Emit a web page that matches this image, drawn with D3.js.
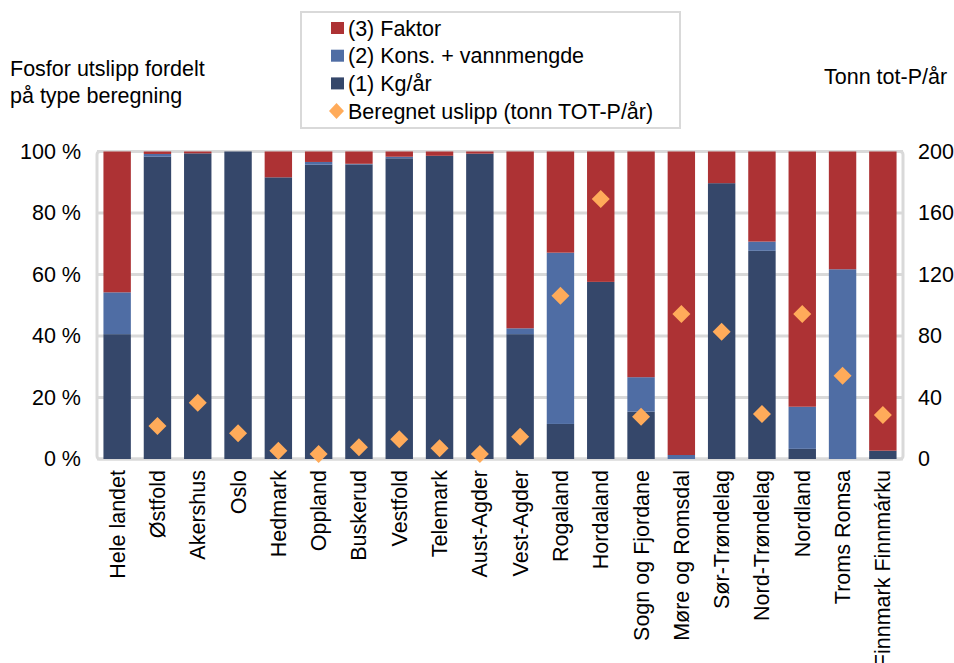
<!DOCTYPE html>
<html>
<head>
<meta charset="utf-8">
<script src="https://cdn.jsdelivr.net/npm/d3@7"></script>
<style>
  body { margin: 0; background: #fff; }
  svg text { font-family: "Liberation Sans", Arial, sans-serif; fill: #000; }
</style>
</head>
<body>
<div id="chart"></div>
<script>
// categories (fylker)
var categories = ["Hele landet", "Østfold", "Akershus", "Oslo", "Hedmark", "Oppland", "Buskerud",
  "Vestfold", "Telemark", "Aust-Agder", "Vest-Agder", "Rogaland", "Hordaland", "Sogn og Fjordane",
  "Møre og Romsdal", "Sør-Trøndelag", "Nord-Trøndelag", "Nordland", "Troms Romsa", "Finnmark Finnmárku"];

// share of discharge per calculation type (%)
var kgAar   = [40.6, 98.3, 99.4, 100, 91.6, 95.7, 95.8, 97.8, 98.6, 99.3, 40.6, 11.4, 57.6, 15.4, 0, 89.7, 67.7, 3.3, 0, 2.7];
var kons    = [13.6, 0.9, 0, 0, 0, 0.9, 0.2, 0.5, 0, 0, 1.9, 55.7, 0, 11.2, 1.3, 0, 3.0, 13.7, 61.7, 0];
var faktor  = [45.8, 0.8, 0.6, 0, 8.4, 3.4, 4.0, 1.7, 1.4, 0.7, 57.5, 32.9, 42.4, 73.4, 98.7, 10.3, 29.3, 83.0, 38.3, 97.3];

// calculated discharge (tonn TOT-P/år), Hele landet is off the scale
var beregnet = [null, 21.5, 36.6, 16.7, 5.4, 3.3, 7.6, 12.8, 7.0, 3.3, 14.5, 106.2, 169.1, 27.5, 94.3, 82.8, 29.3, 94.3, 54.2, 28.6];

var leftTicks  = [0, 20, 40, 60, 80, 100];
var rightTicks = [0, 40, 80, 120, 160, 200];

var seriesKeys   = ["kg", "kons", "faktor"];
var seriesColors = { kg: "#35476a", kons: "#4f6da4", faktor: "#ad3234" };
var legendItems  = [
  { label: "(3) Faktor", color: seriesColors.faktor, type: "rect" },
  { label: "(2) Kons. + vannmengde", color: seriesColors.kons, type: "rect" },
  { label: "(1) Kg/år", color: seriesColors.kg, type: "rect" },
  { label: "Beregnet uslipp (tonn TOT-P/år)", color: "#ffab5a", type: "diamond" }
];

var fontSize = "21.5px";
var width = 954, height = 663;
var margin = { top: 151.5, right: 51, bottom: 204, left: 97 };
var innerW = width - margin.left - margin.right;
var innerH = height - margin.top - margin.bottom;

var svg = d3.select("#chart").append("svg")
  .attr("width", width)
  .attr("height", height);

/** table for stacking */
var table = categories.map(function(c, i) {
  return { cat: c, kg: kgAar[i], kons: kons[i], faktor: faktor[i], ber: beregnet[i] };
});

var x = d3.scaleBand().domain(categories).range([0, innerW]).paddingInner(0.32).paddingOuter(0.16);
var y = d3.scaleLinear().domain([0, 100]).range([innerH, 0]);
var y2 = d3.scaleLinear().domain([0, 200]).range([innerH, 0]);

var g = svg.append("g").attr("transform", "translate(" + margin.left + "," + margin.top + ")");

// gridlines
g.append("g")
  .selectAll("line")
  .data(leftTicks)
  .enter().append("line")
    .attr("x1", 0).attr("x2", innerW)
    .attr("y1", function(d) { return y(d); })
    .attr("y2", function(d) { return y(d); })
    .attr("stroke", "#d9d9d9")
    .attr("stroke-width", 3);

// plot frame
g.append("rect")
  .attr("x", 0).attr("y", 0)
  .attr("width", innerW).attr("height", innerH)
  .attr("rx", 3)
  .attr("fill", "none")
  .attr("stroke", "#d9d9d9")
  .attr("stroke-width", 3);

// stacked bars
var stack = d3.stack().keys(seriesKeys);
var stacked = stack(table);

g.selectAll(".layer")
  .data(stacked)
  .enter().append("g")
    .attr("class", "layer")
    .attr("fill", function(d) { return seriesColors[d.key]; })
  .selectAll("rect")
  .data(function(d) { return d; })
  .enter().append("rect")
    .attr("x", function(d) { return x(d.data.cat); })
    .attr("y", function(d) { return y(Math.min(d[1], 100)); })
    .attr("width", x.bandwidth())
    .attr("height", function(d) { return Math.max(0, y(d[0]) - y(Math.min(d[1], 100))); });

// diamonds
var dsize = 9;
g.selectAll(".dia")
  .data(table.filter(function(d) { return d.ber != null; }))
  .enter().append("path")
    .attr("class", "dia")
    .attr("d", function(d) {
      var cx = x(d.cat) + x.bandwidth() / 2, cy = y2(d.ber);
      return "M" + cx + "," + (cy - dsize) + "L" + (cx + dsize) + "," + cy +
             "L" + cx + "," + (cy + dsize) + "L" + (cx - dsize) + "," + cy + "Z";
    })
    .attr("fill", "#ffab5a");

// left axis
var yAxis = g.append("g")
  .call(d3.axisLeft(y).tickValues(leftTicks).tickSize(0).tickPadding(16).tickFormat(function(d) { return d + " %"; }));
yAxis.select(".domain").remove();
yAxis.selectAll("text").style("font-size", fontSize);

// right axis
var yAxis2 = g.append("g")
  .attr("transform", "translate(" + innerW + ",0)")
  .call(d3.axisRight(y2).tickValues(rightTicks).tickSize(0).tickPadding(15));
yAxis2.select(".domain").remove();
yAxis2.selectAll("text").style("font-size", fontSize);

// x axis labels (rotated)
var xAxis = g.append("g")
  .attr("transform", "translate(0," + innerH + ")")
  .call(d3.axisBottom(x).tickSize(0));
xAxis.select(".domain").remove();
xAxis.selectAll("text")
  .style("font-size", fontSize)
  .attr("transform", "rotate(-90)")
  .attr("text-anchor", "end")
  .attr("x", -11)
  .attr("y", 0)
  .attr("dy", "0.35em");

// titles
svg.append("text").attr("x", 10).attr("y", 76).style("font-size", fontSize).text("Fosfor utslipp fordelt");
svg.append("text").attr("x", 10).attr("y", 103).style("font-size", fontSize).text("på type beregning");
svg.append("text").attr("x", 824).attr("y", 84).style("font-size", fontSize).text("Tonn tot-P/år");

// legend
var legend = svg.append("g").attr("transform", "translate(301,12)");
legend.append("rect")
  .attr("width", 379).attr("height", 116)
  .attr("fill", "#fff")
  .attr("stroke", "#d9d9d9")
  .attr("stroke-width", 2);

var rows = legend.selectAll(".row")
  .data(legendItems)
  .enter().append("g")
    .attr("class", "row")
    .attr("transform", function(d, i) { return "translate(0," + (16 + i * 27.7) + ")"; });

rows.filter(function(d) { return d.type == "rect"; })
  .append("rect")
    .attr("x", 30).attr("y", -6)
    .attr("width", 13).attr("height", 12)
    .attr("fill", function(d) { return d.color; });

rows.filter(function(d) { return d.type == "diamond"; })
  .append("path")
    .attr("d", "M35.5,-8L43,0L35.5,8L28,0Z")
    .attr("fill", function(d) { return d.color; });

rows.append("text")
  .attr("x", 47)
  .attr("dy", "0.36em")
  .style("font-size", fontSize)
  .text(function(d) { return d.label; });
</script>
</body>
</html>
